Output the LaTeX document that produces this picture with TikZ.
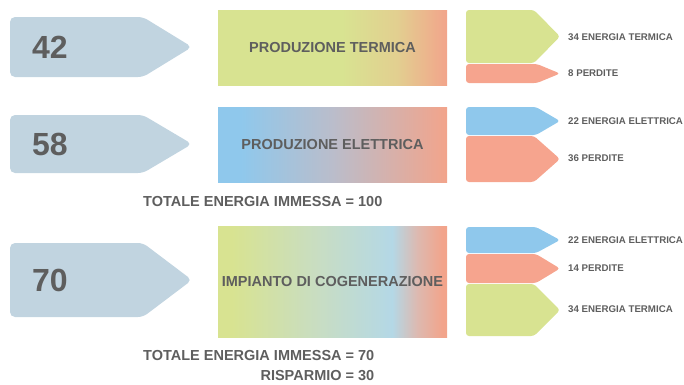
\documentclass[tikz,border=0pt]{standalone}
\usepackage{fontspec}
\setmainfont{Liberation Sans}
\usepackage{xcolor}
\definecolor{inputBlue}{HTML}{C1D4E0}
\definecolor{outGreen}{HTML}{D8E391}
\definecolor{outRed}{HTML}{F6A48E}
\definecolor{outBlue}{HTML}{8FC8EC}
\definecolor{boxSalmon}{HTML}{F2A48B}
\definecolor{tanMid}{HTML}{E2CF90}
\definecolor{greyMid}{HTML}{BABDCB}
\definecolor{mintMid}{HTML}{C8DDC3}
\definecolor{lightBlue}{HTML}{B4D8E6}
\definecolor{pinkMid}{HTML}{DDB9B0}
\definecolor{textGray}{HTML}{5E5E5E}

\pgfdeclarehorizontalshading{termica}{100bp}{color(0bp)=(outGreen); color(52bp)=(outGreen); color(64bp)=(tanMid); color(75bp)=(boxSalmon); color(100bp)=(boxSalmon)}
\pgfdeclarehorizontalshading{elettrica}{100bp}{color(0bp)=(outBlue); color(30bp)=(outBlue); color(50bp)=(greyMid); color(75bp)=(boxSalmon); color(100bp)=(boxSalmon)}
\pgfdeclarehorizontalshading{cogen}{100bp}{color(0bp)=(outGreen); color(28bp)=(outGreen); color(47bp)=(mintMid); color(63bp)=(lightBlue); color(68.5bp)=(pinkMid); color(74bp)=(boxSalmon); color(100bp)=(boxSalmon)}

\tikzset{
  numero/.style={text=textGray, font=\fontsize{32}{32}\bfseries\selectfont, inner sep=0pt, anchor=west},
  blocco/.style={shade, minimum width=229pt, inner sep=0pt, text=textGray, font=\fontsize{14.5}{14.5}\bfseries\selectfont},
  voce/.style={text=textGray, font=\fontsize{9.7}{9.7}\bfseries\selectfont, inner sep=0pt, anchor=west},
  totale/.style={text=textGray, font=\fontsize{14.5}{14.5}\bfseries\selectfont, inner sep=0pt}
}

\begin{document}
\begin{tikzpicture}[x=1pt, y=-1pt]
  \useasboundingbox (0,0) rectangle (684,384);

  % ingressi
  \fill[inputBlue, rounded corners=5pt] (10,17) -- (143,17) -- (192,47) -- (143,77) -- (10,77) -- cycle;
  \fill[inputBlue, rounded corners=5pt] (10,115) -- (143,115) -- (192,144) -- (143,173) -- (10,173) -- cycle;
  \fill[inputBlue, rounded corners=5pt] (10,243) -- (143,243) -- (192,280) -- (143,317) -- (10,317) -- cycle;
  \node[numero] (in42) at (32,47) {42};
  \node[numero] (in58) at (32,144) {58};
  \node[numero] (in70) at (32,280) {70};

  % impianti
  \node[blocco, shading=termica, minimum height=75pt] (termica) at (332.5,47.5) {PRODUZIONE TERMICA};
  \node[blocco, shading=elettrica, minimum height=75pt] (elettrica) at (332.5,144.5) {PRODUZIONE ELETTRICA};
  \node[blocco, shading=cogen, minimum height=111pt] (cogen) at (332.5,281.5) {IMPIANTO DI COGENERAZIONE};

  % uscite
  \fill[outGreen, rounded corners=3pt] (466,10) -- (534,10) -- (560,36.5) -- (534,63) -- (466,63) -- cycle;
  \fill[outRed, rounded corners=3pt] (466,64) -- (537,64) -- (560,73.5) -- (537,83) -- (466,83) -- cycle;
  \node[voce] (t1) at (568,37) {34 ENERGIA TERMICA};
  \node[voce] (p1) at (568,73.5) {8 PERDITE};

  \fill[outBlue, rounded corners=3pt] (466,107) -- (536,107) -- (560,121) -- (536,135) -- (466,135) -- cycle;
  \fill[outRed, rounded corners=3pt] (466,136) -- (534,136) -- (560,159) -- (534,182) -- (466,182) -- cycle;
  \node[voce] (e2) at (568,121.5) {22 ENERGIA ELETTRICA};
  \node[voce] (p2) at (568,158) {36 PERDITE};

  \fill[outBlue, rounded corners=3pt] (466,227) -- (536,227) -- (560,240) -- (536,253) -- (466,253) -- cycle;
  \fill[outRed, rounded corners=3pt] (466,254) -- (536,254) -- (560,268.5) -- (536,283) -- (466,283) -- cycle;
  \fill[outGreen, rounded corners=3pt] (466,284) -- (534,284) -- (560,310) -- (534,336) -- (466,336) -- cycle;
  \node[voce] (e3) at (568,240.5) {22 ENERGIA ELETTRICA};
  \node[voce] (p3) at (568,268) {14 PERDITE};
  \node[voce] (t3) at (568,309.5) {34 ENERGIA TERMICA};

  % totali
  \node[totale, anchor=west] (tot100) at (143,201) {TOTALE ENERGIA IMMESSA = 100};
  \node[totale, anchor=west] (tot70) at (143,355.5) {TOTALE ENERGIA IMMESSA = 70};
  \node[totale, anchor=east] (risp) at (tot70.east |- 0,376) {RISPARMIO = 30};
\end{tikzpicture}
\end{document}
